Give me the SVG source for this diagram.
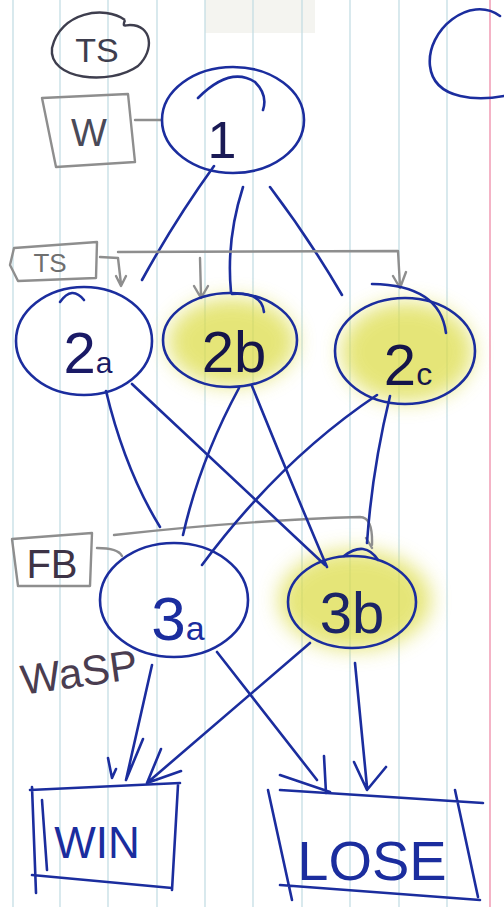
<svg xmlns="http://www.w3.org/2000/svg" width="504" height="907" viewBox="0 0 504 907">
<style>
.ink{fill:none;stroke:#1b2d9e;stroke-width:2.6;stroke-linecap:round;stroke-linejoin:round}
.pen{fill:none;stroke:#8e8e8e;stroke-width:2.4;stroke-linecap:round;stroke-linejoin:round}
.lbl{font-family:"Liberation Sans",Arial,sans-serif;fill:#1b2d9e;text-anchor:middle}
.glbl{font-family:"Liberation Sans",Arial,sans-serif;fill:#6f6f6f;text-anchor:middle}
.rule{stroke:#bfdbe2;stroke-width:1.2}
.hl{fill:#dcdc45;opacity:0.72;filter:url(#blur)}
</style>
<defs>
<filter id="blur" x="-30%" y="-30%" width="160%" height="160%"><feGaussianBlur stdDeviation="10"/></filter>
</defs>
<rect width="504" height="907" fill="#ffffff"/>
<rect x="205" y="0" width="110" height="33" fill="#f4f4f0"/>
<g id="paper">
<line class="rule" x1="13" y1="0" x2="13" y2="907"/>
<line class="rule" x1="60" y1="0" x2="60" y2="907"/>
<line class="rule" x1="108" y1="0" x2="108" y2="907"/>
<line class="rule" x1="157" y1="0" x2="157" y2="907"/>
<line class="rule" x1="205" y1="0" x2="205" y2="907"/>
<line class="rule" x1="253" y1="0" x2="253" y2="907"/>
<line class="rule" x1="302" y1="0" x2="302" y2="907"/>
<line class="rule" x1="350" y1="0" x2="350" y2="907"/>
<line class="rule" x1="399" y1="0" x2="399" y2="907"/>
<line class="rule" x1="447" y1="0" x2="447" y2="907"/>
<line x1="490" y1="0" x2="490" y2="907" stroke="#f2a0b8" stroke-width="1.6"/>
</g>
<g id="highlights">
<ellipse class="hl" cx="232" cy="342" rx="64" ry="44"/>
<ellipse class="hl" cx="407" cy="352" rx="66" ry="50"/>
<ellipse class="hl" cx="355" cy="600" rx="76" ry="50"/>
</g>
<g id="connectors">
<path class="ink" d="M214 166 Q175 220 142 280"/>
<path class="ink" d="M243 187 Q226 240 231 292"/>
<path class="ink" d="M270 187 Q310 240 342 295"/>
<path class="pen" d="M135 120 L162 120"/>
<path class="pen" d="M100 257 L118 258 L121 284 M116 276 L121 286 L126 276"/>
<path class="pen" d="M118 252 L398 251 L400 286 M393 276 L400 288 L406 272"/>
<path class="pen" d="M200 258 L201 296 M194 286 L201 298 L208 286"/>
<path class="pen" d="M97 548 Q118 548 122 556"/>
<path class="pen" d="M114 535 Q250 520 360 517 Q373 517 372 545 M366 538 L372 548"/>
<path class="ink" d="M106 391 Q125 470 160 527"/>
<path class="ink" d="M132 384 L325 565"/>
<path class="ink" d="M239 388 Q200 460 183 535"/>
<path class="ink" d="M252 386 Q290 480 327 567"/>
<path class="ink" d="M377 395 Q280 460 202 565"/>
<path class="ink" d="M390 396 Q372 470 367 543"/>
<path class="ink" d="M152 665 L126 780 M108 758 L112 778 L116 769 M143 739 L126 780"/>
<path class="ink" d="M217 652 L317 780 M280 775 L330 792 M324 756 L326 793"/>
<path class="ink" d="M310 643 L147 783 M161 749 L147 783 L181 771"/>
<path class="ink" d="M355 663 L367 787 M354 762 L367 790 L386 767"/>
</g>
<g id="topright">
<path class="ink" d="M500 16 C470 -6 426 30 430 66 C434 102 482 100 504 96"/>
</g>
<g id="ts-circle">
<path fill="none" stroke="#3e3e4e" stroke-width="2.4" d="M125 20 C105 5 60 12 52 48 C48 80 110 86 138 66 C155 50 152 25 130 25 C125 25 122 28 125 20"/>
<text class="lbl" x="97" y="62" font-size="34" style="fill:#3e3e4e">TS</text>
</g>
<g id="w-box">
<path class="pen" d="M42 98 L128 94 L135 162 L56 167 Z"/>
<text class="lbl" x="89" y="146" font-size="38" style="fill:#4a4a58">W</text>
</g>
<g id="node-1">
<ellipse class="ink" cx="233" cy="120" rx="71" ry="53"/>
<path class="ink" d="M198 98 Q230 66 255 82 Q268 95 263 110"/>
<text class="lbl" x="222" y="158" font-size="52" style="fill:#1a1a55">1</text>
</g>
<g id="ts-box">
<path class="pen" d="M14 248 L97 242 L96 278 L18 281 L10 265 Z"/>
<text class="glbl" x="50" y="272" font-size="26">TS</text>
</g>
<g id="node-2a">
<ellipse class="ink" cx="84" cy="341" rx="68" ry="54"/>
<path class="ink" d="M60 302 Q72 285 84 300"/>
<text class="lbl" x="88" y="373" font-size="58" style="fill:#1a1a66">2<tspan font-size="30">a</tspan></text>
</g>
<g id="node-2b">
<ellipse class="ink" cx="230" cy="340" rx="67" ry="47"/>
<path class="ink" d="M232 294 Q262 292 264 312"/>
<text class="lbl" x="234" y="372" font-size="58" style="fill:#15154a">2b</text>
</g>
<g id="node-2c">
<ellipse class="ink" cx="405" cy="351" rx="70" ry="53"/>
<path class="ink" d="M372 284 Q440 285 446 333"/>
<text class="lbl" x="408" y="385" font-size="58" style="fill:#15154a">2<tspan font-size="32">c</tspan></text>
</g>
<g id="fb-box">
<path class="pen" d="M12 539 L92 533 L90 586 L18 586 Z"/>
<text class="glbl" x="52" y="578" font-size="40" style="fill:#3d3346">FB</text>
</g>
<g id="wasp">
<text x="20" y="688" font-family="Liberation Sans,Arial,sans-serif" font-size="42" fill="#4a3d50" transform="rotate(-8 70 670)">WaSP</text>
</g>
<g id="node-3a">
<ellipse class="ink" cx="174" cy="600" rx="74" ry="57"/>
<text class="lbl" x="178" y="640" font-size="62">3<tspan font-size="34">a</tspan></text>
</g>
<g id="node-3b">
<ellipse class="ink" cx="352" cy="602" rx="64" ry="46"/>
<path class="ink" d="M344 556 Q365 540 378 560"/>
<text class="lbl" x="352" y="633" font-size="58" style="fill:#1b2466">3b</text>
</g>
<g id="node-win">
<path class="ink" d="M30 790 L180 783 M178 785 L172 890 M32 875 L172 888 M32 787 L36 893 M42 800 L47 870"/>
<text class="lbl" x="97" y="858" font-size="44">WIN</text>
</g>
<g id="node-lose">
<path class="ink" d="M280 790 L483 803 M268 790 L292 900 M280 885 L480 900 M455 790 L478 897"/>
<text class="lbl" x="372" y="880" font-size="56">LOSE</text>
</g>
</svg>
